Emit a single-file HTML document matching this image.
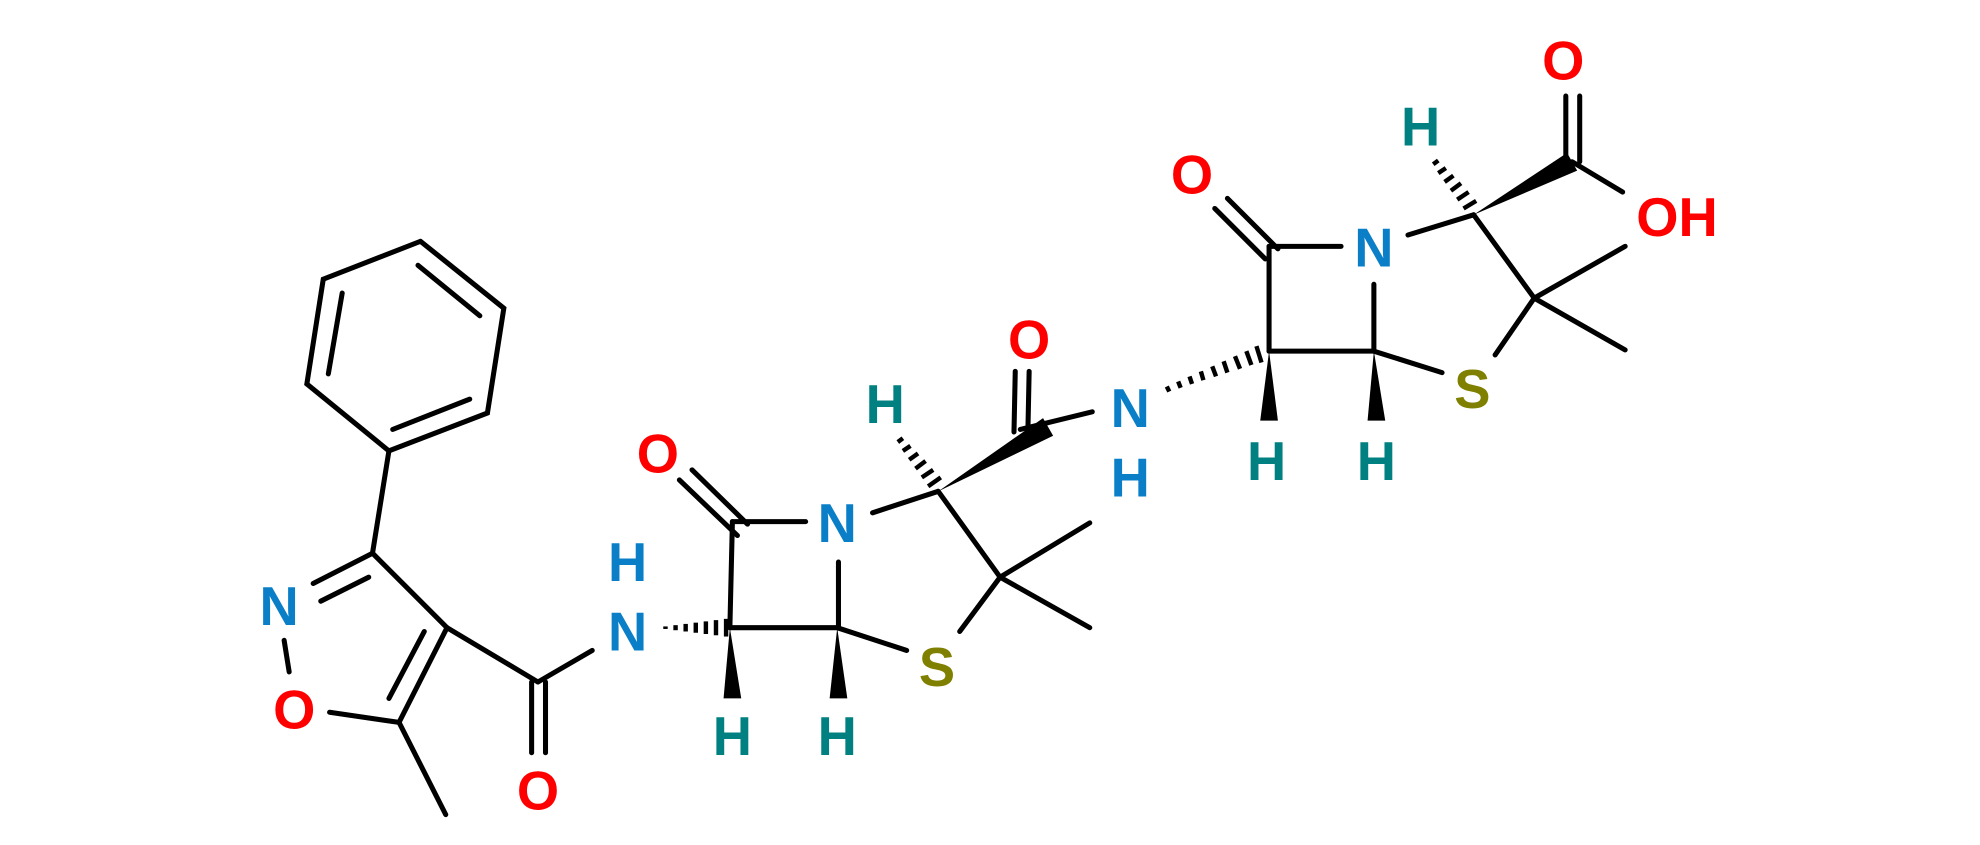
<!DOCTYPE html>
<html><head><meta charset="utf-8"><style>html,body{margin:0;padding:0;background:#fff}svg{display:block}</style></head><body>
<svg width="1980" height="845" viewBox="0 0 1568 669" xmlns="http://www.w3.org/2000/svg">
<g stroke="#000" stroke-width="4" fill="none" stroke-linecap="round">
<polyline points="333,191 399,244 386,327 308,357 243,304 256,221 333,191"/>
<line x1="331" y1="210" x2="380" y2="250"/>
<line x1="372" y1="316" x2="311" y2="340"/>
<line x1="271" y1="232" x2="260" y2="296"/>
<line x1="308" y1="357" x2="295" y2="438"/>
<line x1="295" y1="438" x2="248" y2="462"/>
<line x1="292" y1="457" x2="254" y2="476"/>
<line x1="225" y1="507" x2="229" y2="532"/>
<line x1="261" y1="564" x2="316" y2="572"/>
<line x1="316" y1="572" x2="354" y2="497"/>
<line x1="308" y1="553" x2="336" y2="500"/>
<line x1="354" y1="497" x2="295" y2="438"/>
<line x1="316" y1="572" x2="353" y2="645"/>
<line x1="354" y1="497" x2="426" y2="540"/>
<line x1="421" y1="540" x2="421" y2="596"/>
<line x1="432" y1="540" x2="432" y2="596"/>
<line x1="426" y1="540" x2="469" y2="515"/>
<line x1="578" y1="497" x2="663" y2="497"/>
<line x1="578" y1="497" x2="580" y2="413"/>
<line x1="580" y1="413" x2="638" y2="413"/>
<line x1="664" y1="445" x2="664" y2="497"/>
<line x1="584" y1="424" x2="538" y2="380"/>
<line x1="592" y1="415" x2="548" y2="372"/>
<line x1="663" y1="497" x2="718" y2="515"/>
<line x1="760" y1="500" x2="792" y2="457"/>
<line x1="792" y1="457" x2="863" y2="414"/>
<line x1="792" y1="457" x2="863" y2="497"/>
<line x1="792" y1="457" x2="743" y2="389"/>
<line x1="743" y1="389" x2="691" y2="406"/>
<line x1="803" y1="342" x2="804" y2="294"/>
<line x1="814" y1="342" x2="815" y2="294"/>
<line x1="808" y1="340" x2="865" y2="326"/>
<line x1="1005" y1="278" x2="1088" y2="278"/>
<line x1="1005" y1="278" x2="1005" y2="195"/>
<line x1="1005" y1="195" x2="1062" y2="195"/>
<line x1="1088" y1="225" x2="1088" y2="278"/>
<line x1="1002" y1="205" x2="962" y2="165"/>
<line x1="1012" y1="197" x2="972" y2="157"/>
<line x1="1088" y1="278" x2="1142" y2="295"/>
<line x1="1184" y1="281" x2="1215" y2="236"/>
<line x1="1215" y1="236" x2="1287" y2="195"/>
<line x1="1215" y1="236" x2="1287" y2="277"/>
<line x1="1215" y1="236" x2="1167" y2="170"/>
<line x1="1167" y1="170" x2="1115" y2="186"/>
<line x1="1240" y1="128" x2="1240" y2="76"/>
<line x1="1251" y1="128" x2="1251" y2="76"/>
<line x1="1245" y1="128" x2="1285" y2="152"/>
</g>
<g fill="#000">
<polygon points="743,389 834,345 826,331"/>
<polygon points="1167,170 1249,135 1241,121"/>
<polygon points="578,497 573,553 587,553"/>
<polygon points="663,497 657,553 671,553"/>
<polygon points="1005,278 998,333 1012,333"/>
<polygon points="1088,278 1083,333 1097,333"/>
</g>
<g stroke="#000" stroke-width="3.5">
<line x1="575" y1="490" x2="575" y2="504"/><line x1="567" y1="491" x2="567" y2="503"/><line x1="559" y1="492" x2="559" y2="502"/><line x1="551" y1="493" x2="551" y2="501"/><line x1="543" y1="494" x2="543" y2="500"/><line x1="535" y1="495" x2="535" y2="499"/><line x1="527" y1="496" x2="527" y2="498"/>
<line x1="735" y1="385" x2="745" y2="378"/><line x1="730" y1="378" x2="739" y2="372"/><line x1="725" y1="371" x2="733" y2="365"/><line x1="720" y1="364" x2="727" y2="359"/><line x1="715" y1="357" x2="721" y2="353"/><line x1="711" y1="350" x2="715" y2="347"/>
<line x1="995" y1="274" x2="999" y2="287"/><line x1="987" y1="278" x2="991" y2="289"/><line x1="978" y1="282" x2="982" y2="292"/><line x1="969" y1="286" x2="972" y2="295"/><line x1="960" y1="290" x2="963" y2="298"/><line x1="951" y1="294" x2="953" y2="301"/><line x1="942" y1="298" x2="944" y2="304"/><line x1="933" y1="302" x2="935" y2="307"/><line x1="924" y1="306" x2="926" y2="310"/>
<line x1="1159" y1="165" x2="1169" y2="159"/><line x1="1154" y1="158" x2="1163" y2="152"/><line x1="1149" y1="151" x2="1157" y2="145"/><line x1="1144" y1="144" x2="1151" y2="139"/><line x1="1139" y1="137" x2="1145" y2="133"/><line x1="1135" y1="130" x2="1139" y2="127"/>
</g>
<g font-family="Liberation Sans, Arial, sans-serif" font-weight="bold" font-size="43" text-anchor="middle">
<text x="221" y="495" fill="#0a7fc8">N</text>
<text x="233" y="577" fill="#f00">O</text>
<text x="426" y="641" fill="#f00">O</text>
<text x="497" y="515" fill="#0a7fc8">N</text>
<text x="497" y="460" fill="#0a7fc8">H</text>
<text x="521" y="374" fill="#f00">O</text>
<text x="663" y="429" fill="#0a7fc8">N</text>
<text x="742" y="543" fill="#808000">S</text>
<text x="580" y="598" fill="#008080">H</text>
<text x="663" y="598" fill="#008080">H</text>
<text x="701" y="335" fill="#008080">H</text>
<text x="815" y="284" fill="#f00">O</text>
<text x="895" y="338" fill="#0a7fc8">N</text>
<text x="895" y="393" fill="#0a7fc8">H</text>
<text x="944" y="153" fill="#f00">O</text>
<text x="1088" y="211" fill="#0a7fc8">N</text>
<text x="1166" y="323" fill="#808000">S</text>
<text x="1003" y="380" fill="#008080">H</text>
<text x="1090" y="380" fill="#008080">H</text>
<text x="1125" y="115" fill="#008080">H</text>
<text x="1238" y="63" fill="#f00">O</text>
<text x="1328" y="187" fill="#f00">OH</text>
</g>
</svg>
</body></html>
